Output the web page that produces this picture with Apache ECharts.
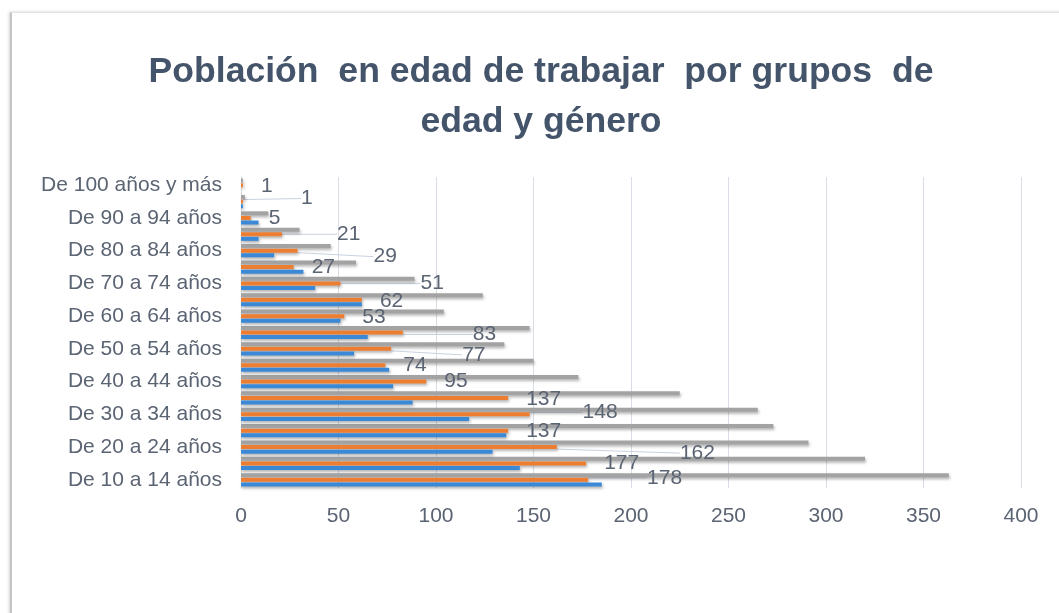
<!DOCTYPE html>
<html>
<head>
<meta charset="utf-8">
<script src="https://cdn.jsdelivr.net/npm/echarts@6/dist/echarts.min.js"></script>
<style>
  html, body { margin: 0; padding: 0; background: #fff; overflow: hidden; }
  #frame {
    position: absolute; left: 10px; top: 12px; width: 1200px; height: 800px;
    border-top: 1px solid #e4e4e4; border-left: 2px solid #c4c4c4;
    box-shadow: -1px 0 3px rgba(0,0,0,0.18);
  }
  #chart { position: absolute; left: 0; top: 0; width: 1082px; height: 613px; }
</style>
</head>
<body>
<div id="frame"></div>
<div id="chart"></div>
<script>
// grupos de edad (de abajo hacia arriba)
var categorias = [
    'De 10 a 14 años', 'De 15 a 19 años', 'De 20 a 24 años', 'De 25 a 29 años',
    'De 30 a 34 años', 'De 35 a 39 años', 'De 40 a 44 años', 'De 45 a 49 años',
    'De 50 a 54 años', 'De 55 a 59 años', 'De 60 a 64 años', 'De 65 a 69 años',
    'De 70 a 74 años', 'De 75 a 79 años', 'De 80 a 84 años', 'De 85 a 89 años',
    'De 90 a 94 años', 'De 95 a 99 años', 'De 100 años y más'
];
var serieAzul = [185, 143, 129, 136, 117, 88, 78, 76, 58, 65, 51, 62, 38, 32, 17, 9, 9, 1, 0];
var serieNaranja = [178, 177, 162, 137, 148, 137, 95, 74, 77, 83, 53, 62, 51, 27, 29, 21, 5, 1, 1];
var serieTotal = [363, 320, 291, 273, 265, 225, 173, 150, 135, 148, 104, 124, 89, 59, 46, 30, 14, 2, 1];
var ticksX = [0, 50, 100, 150, 200, 250, 300, 350, 400];

// desplazamiento de etiquetas (como en el original de Excel)
var moverEtiqueta = [
    [41, -2], [0, 0], [105, 6], [0, 0], [35, -2], [0, 1], [0, 0], [0, 0], [53, 6], [52, 2],
    [0, 1], [0, 1], [62, 0], [0, 0], [58, 6], [37, 0], [0, 0], [40, -3], [0, 1]
];

var fuente = 'Liberation Sans';
var colorTexto = '#5B6473';

var sombra = {
    shadowColor: 'rgba(0, 0, 0, 0.3)',
    shadowBlur: 3,
    shadowOffsetX: 1,
    shadowOffsetY: 2
};

var myChart = echarts.init(document.getElementById('chart'));
var option = {
    backgroundColor: 'transparent',
    animation: false,
    title: {
        text: 'Población  en edad de trabajar  por grupos  de\nedad y género',
        left: 'center',
        top: 42,
        textStyle: {
            fontFamily: fuente,
            fontWeight: 'bold',
            fontSize: 35.6,
            lineHeight: 50,
            color: '#44546A'
        }
    },
    grid: {
        left: 241,
        right: 61,
        top: 177,
        bottom: 125,
        containLabel: false
    },
    xAxis: {
        type: 'value',
        min: ticksX[0],
        max: ticksX[ticksX.length - 1],
        interval: 50,
        axisLine: { show: false },
        axisTick: { show: false },
        axisLabel: {
            margin: 18,
            fontFamily: fuente,
            fontSize: 21,
            color: colorTexto
        },
        splitLine: {
            lineStyle: { color: '#D9DEE6', width: 1 }
        }
    },
    yAxis: {
        type: 'category',
        data: categorias,
        axisTick: { show: false },
        axisLine: { lineStyle: { color: '#D9D9D9', width: 1 } },
        axisLabel: {
            interval: 1,
            margin: 19,
            fontFamily: fuente,
            fontSize: 21,
            color: colorTexto
        }
    },
    series: [
        {
            name: 'Total',
            type: 'bar',
            data: serieTotal,
            barWidth: 4,
            barGap: '15%',
            itemStyle: Object.assign({ color: '#A3A3A3' }, sombra)
        },
        {
            name: 'Mujeres',
            type: 'bar',
            data: serieNaranja.map(function (v, i) {
                return { value: v, labelLine: { show: moverEtiqueta[i][0] > 0 } };
            }),
            barWidth: 4,
            barGap: '15%',
            itemStyle: Object.assign({ color: '#ED7D31' }, sombra),
            label: {
                show: true,
                position: 'right',
                distance: 18,
                fontFamily: fuente,
                fontSize: 21,
                color: colorTexto
            },
            labelLine: {
                lineStyle: { color: '#C9D2DE', width: 1 }
            },
            labelLayout: function (params) {
                var m = moverEtiqueta[params.dataIndex];
                return { dx: m[0], dy: m[1] };
            }
        },
        {
            name: 'Hombres',
            type: 'bar',
            data: serieAzul,
            barWidth: 4,
            barGap: '15%',
            itemStyle: Object.assign({ color: '#3A88D6' }, sombra)
        }
    ]
};
myChart.setOption(option);
window.addEventListener('resize', function () {
    myChart.resize();
});
</script>
</body>
</html>
